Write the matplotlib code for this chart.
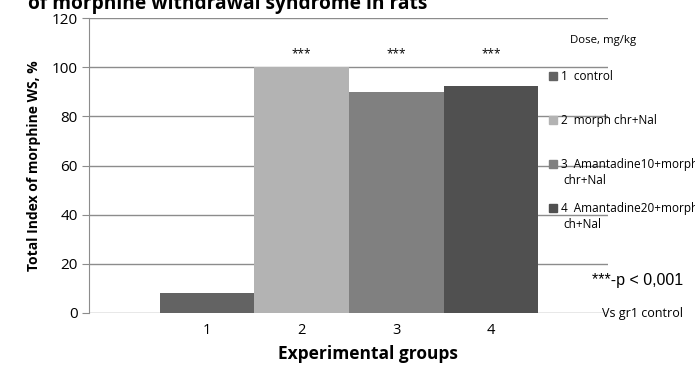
import matplotlib.pyplot as plt
from matplotlib.patches import Patch

groups = [1, 2, 3, 4]
values = [8, 100, 90, 92.5]
colors = ['#636363', '#b3b3b3', '#808080', '#505050']
legend_labels = ['1  control', '2  morph chr+Nal', '3  Amantadine10+morph', '4  Amantadine20+morph']
legend_cont = {2: 'chr+Nal', 3: 'ch+Nal'}
stars = ['', '***', '***', '***']

plt.rcParams['font.family'] = ['Open Sans', 'DejaVu Sans']

fig = plt.figure(figsize=(6.95, 3.66), dpi=100)
W, H = 695, 366
ax = fig.add_axes([89 / W, (H - 313) / H, (608 - 89) / W, (313 - 18) / H])

bars = ax.bar(groups, values, width=1.0, color=colors, zorder=2)
for g, v, s in zip(groups, values, stars):
    if s:
        ax.text(g, 105.5, s, ha='center', va='center', fontsize=8.5)

ax.set_xlim(-0.25, 5.24)
ax.set_ylim(0, 120)
ax.set_yticks(range(0, 121, 20))
ax.set_xticks(groups)
ax.grid(axis='y', color='#8c8c8c', linewidth=1.0, zorder=0)
for side in ['top', 'right', 'bottom']:
    ax.spines[side].set_visible(False)
ax.spines['left'].set_color('#8c8c8c')
ax.tick_params(axis='y', length=5, color='#8c8c8c', labelsize=11, pad=3)
ax.tick_params(axis='x', length=0, labelsize=10.5, pad=7)
ax.set_ylabel('Total Index of morphine WS, %', fontsize=10, fontweight='bold')
ax.yaxis.set_label_coords(-0.092, 0.5)
ax.set_xlabel('Experimental groups', fontsize=12.5, fontweight='bold')
ax.xaxis.set_label_coords(0.538, -0.11)

# cropped title at the very top
fig.text(28 / W, 1 - 9 / H, 'of morphine withdrawal syndrome in rats', fontsize=13.8,
         fontweight='bold', ha='left', va='baseline')

handles = [Patch(color=c) for c in colors]
leg = fig.legend(handles, legend_labels, loc='upper left',
                 bbox_to_anchor=(549 / W, 1 - 70 / H), frameon=False, fontsize=8.5,
                 handlelength=0.7, handleheight=0.7, handletextpad=0.3,
                 labelspacing=2.62, borderaxespad=0, borderpad=0)
fig.text(563 / W, 1 - 181 / H, legend_cont[2], fontsize=8.5, va='center')
fig.text(563 / W, 1 - 224 / H, legend_cont[3], fontsize=8.5, va='center')

fig.text(570 / W, 1 - 41 / H, 'Dose, mg/kg', fontsize=8.2, va='center')
fig.text(592 / W, 1 - 280 / H, '***-p < 0,001', fontsize=11.5, va='center',
         family='Liberation Sans')
fig.text(602 / W, 1 - 313 / H, 'Vs gr1 control', fontsize=9, va='center')

fig.savefig('out.png', dpi=100)
